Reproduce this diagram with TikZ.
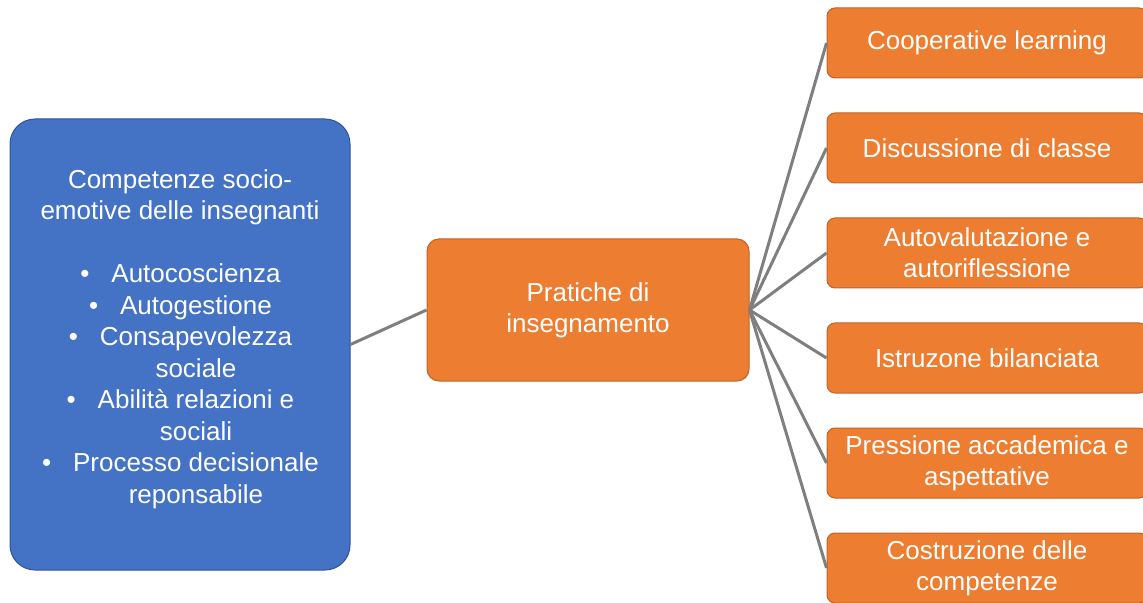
\documentclass[tikz,border=0pt]{standalone}
\usepackage{fontspec}
\setmainfont{Liberation Sans}
\usetikzlibrary{positioning}

\definecolor{boxblue}{HTML}{4472C4}
\definecolor{boxblueline}{HTML}{2F5597}
\definecolor{boxorange}{HTML}{ED7D31}
\definecolor{boxorangeline}{HTML}{C0622A}
\definecolor{linkgray}{HTML}{7F7F7F}

% bullet line and continuation line of the list in the blue box
\newcommand{\bitem}[1]{\hspace*{16pt}\llap{\textbullet\hspace{11pt}}#1}
\newcommand{\bcont}[1]{\hspace*{16pt}#1}

\begin{document}
\begin{tikzpicture}[x=0.5pt, y=-0.5pt, node distance=17pt,
    every node/.style={font=\fontsize{13}{15.5}\selectfont, text=white, align=center, inner sep=0pt},
    bluebox/.style={draw=boxblueline, fill=boxblue, line width=0.5pt, rounded corners=12.5pt,
        minimum width=170pt, minimum height=225.5pt},
    mainbox/.style={draw=boxorangeline, fill=boxorange, line width=0.5pt, rounded corners=6pt,
        minimum width=161pt, minimum height=71pt},
    practbox/.style={draw=boxorangeline, fill=boxorange, line width=0.5pt, rounded corners=4pt,
        minimum width=160pt, minimum height=35pt},
    link/.style={draw=linkgray, line width=1.5pt}]
    \useasboundingbox (0,0) rectangle (1143,603);

    % Competences
    \node[bluebox] (compet) at (180,344.5) {};
    \node[font=\fontsize{13}{15.75}\selectfont] (competlist) at (180,339) {Competenze socio-\\emotive delle insegnanti\\[15.75pt]
        \bitem{Autocoscienza}\\
        \bitem{Autogestione}\\
        \bitem{Consapevolezza}\\
        \bcont{sociale}\\
        \bitem{Abilità relazioni e}\\
        \bcont{sociali}\\
        \bitem{Processo decisionale}\\
        \bcont{reponsabile}};

    % Teaching practices
    \node[mainbox] (pract) at (588,310) {Pratiche di\\insegnamento};

    % Single practices
    \node[practbox] (coop) at (987,43) {Cooperative learning};
    \node[practbox, below=of coop] (discus) {Discussione di classe};
    \node[practbox, below=of discus] (autoval) {Autovalutazione e\\autoriflessione};
    \node[practbox, below=of autoval] (istruz) {Istruzone bilanciata};
    \node[practbox, below=of istruz] (press) {Pressione accademica e\\aspettative};
    \node[practbox, below=of press] (costr) {Costruzione delle\\competenze};

    % Connections
    \draw[link] (compet.east) -- (pract.west);
    \draw[link] (pract.east) -- (coop.west);
    \draw[link] (pract.east) -- (discus.west);
    \draw[link] (pract.east) -- (autoval.west);
    \draw[link] (pract.east) -- (istruz.west);
    \draw[link] (pract.east) -- (press.west);
    \draw[link] (pract.east) -- (costr.west);
\end{tikzpicture}
\end{document}
